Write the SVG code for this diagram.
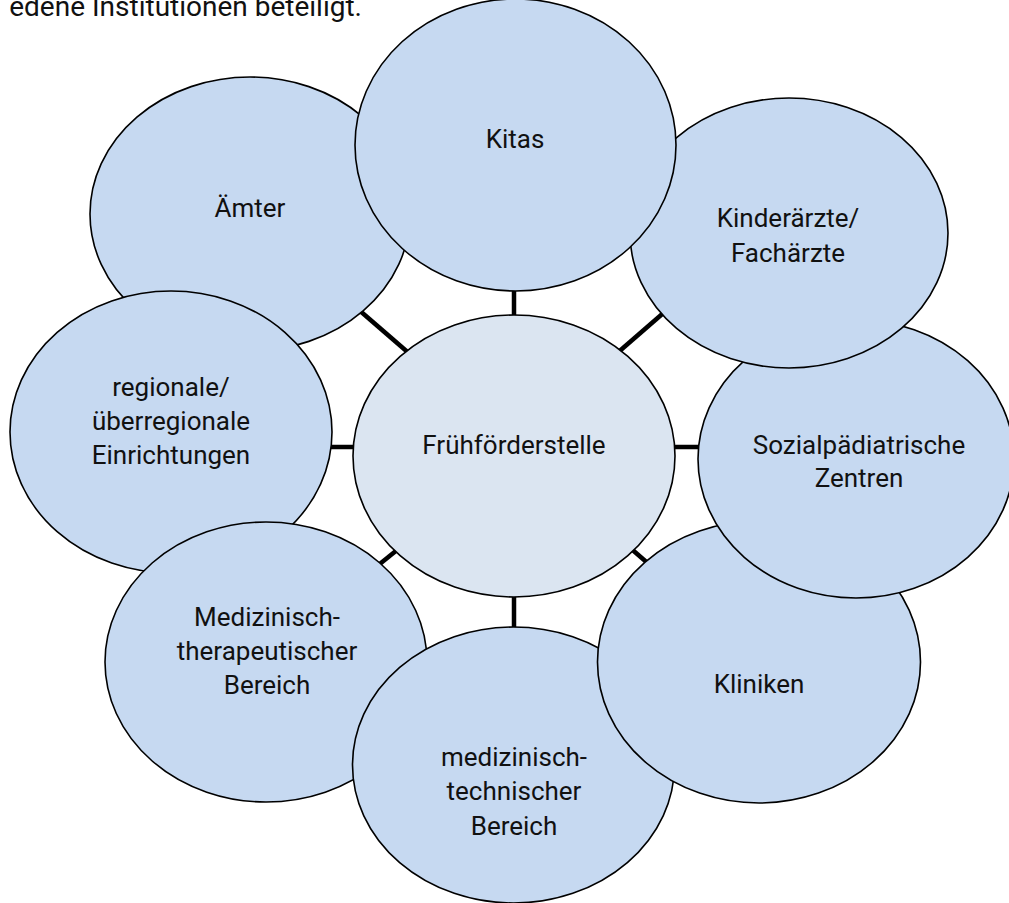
<svg xmlns="http://www.w3.org/2000/svg" width="1009" height="903" viewBox="0 0 1009 903">
<style>
.o{fill:#C6D9F1;stroke:#000;stroke-width:1.6}
.c{fill:#DBE5F1;stroke:#000;stroke-width:1.6}
.t{font-family:Roboto,"Liberation Sans",sans-serif;font-size:26px;fill:#111;text-anchor:middle}
.k{stroke:#000;stroke-width:4.5;fill:none}
</style>
<rect width="1009" height="903" fill="#fff"/>
<text x="362" y="16" style="font-family:Roboto,'Liberation Sans',sans-serif;font-size:28px;fill:#111;text-anchor:end">edene Institutionen beteiligt.</text>
<g id="connectors">
<line class="k" x1="514" y1="285" x2="514" y2="320"/>
<line class="k" x1="359" y1="310" x2="411" y2="355"/>
<line class="k" x1="615" y1="355" x2="668" y2="309"/>
<line class="k" x1="326" y1="447" x2="358" y2="447"/>
<line class="k" x1="670" y1="447" x2="704" y2="447"/>
<line class="k" x1="376" y1="567" x2="402" y2="546"/>
<line class="k" x1="628" y1="546" x2="651" y2="566"/>
<line class="k" x1="514" y1="592" x2="514" y2="632"/>
</g>
<g id="aemter"><ellipse class="o" cx="250" cy="214" rx="160" ry="137"/><text class="t" x="250" y="217">Ämter</text></g>
<g id="regionale"><ellipse class="o" cx="171" cy="432" rx="161" ry="141"/><text class="t" x="171" y="396">regionale/</text><text class="t" x="171" y="430">überregionale</text><text class="t" x="171" y="464">Einrichtungen</text></g>
<g id="med-therapeutisch"><ellipse class="o" cx="266" cy="662" rx="161" ry="140"/><text class="t" x="267" y="626">Medizinisch-</text><text class="t" x="267" y="660">therapeutischer</text><text class="t" x="267" y="694">Bereich</text></g>
<g id="med-technisch"><ellipse class="o" cx="513.5" cy="765" rx="161" ry="138"/><text class="t" x="514" y="766">medizinisch-</text><text class="t" x="514" y="800">technischer</text><text class="t" x="514" y="835">Bereich</text></g>
<g id="kliniken"><ellipse class="o" cx="759" cy="662" rx="161.5" ry="141"/><text class="t" x="759" y="693">Kliniken</text></g>
<g id="sozial"><ellipse class="o" cx="856" cy="459" rx="158" ry="139"/><text class="t" x="859" y="454">Sozialpädiatrische</text><text class="t" x="859" y="487">Zentren</text></g>
<g id="kinderaerzte"><ellipse class="o" cx="789" cy="233" rx="159" ry="135"/><text class="t" x="788" y="227">Kinderärzte/</text><text class="t" x="788" y="262">Fachärzte</text></g>
<g id="kitas"><ellipse class="o" cx="515.5" cy="145" rx="160.5" ry="146"/><text class="t" x="515" y="148">Kitas</text></g>
<g id="fruehfoerderstelle"><ellipse class="c" cx="514" cy="456" rx="161" ry="141"/><text class="t" x="514" y="454">Frühförderstelle</text></g>
</svg>
